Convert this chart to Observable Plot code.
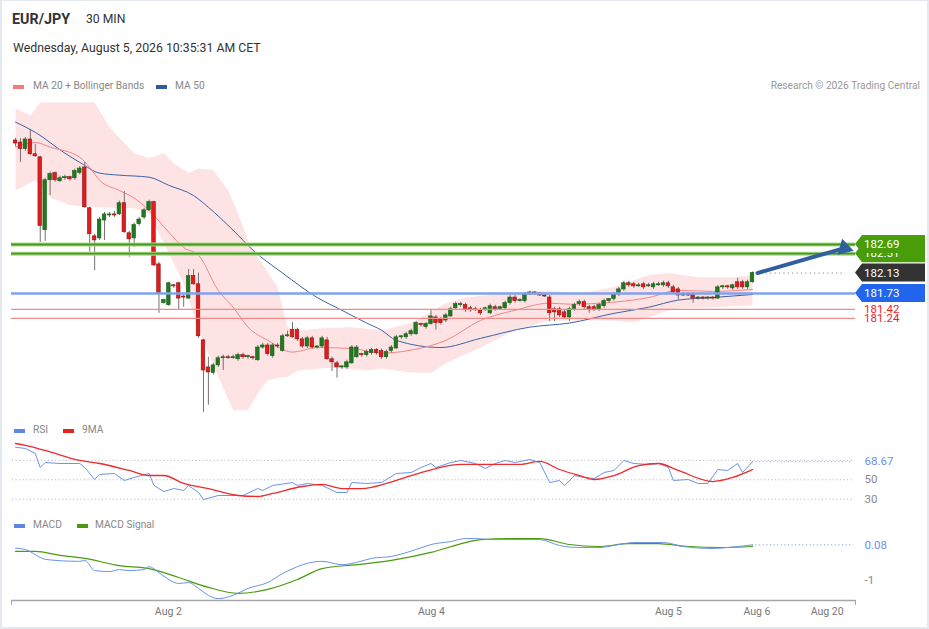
<!DOCTYPE html>
<html><head><meta charset="utf-8">
<script src="https://cdn.jsdelivr.net/npm/d3@7"></script>
<script src="https://cdn.jsdelivr.net/npm/@observablehq/plot@0.6"></script>
<style>
body{margin:0;background:#fff;font-family:Roboto,"Liberation Sans",Arial,sans-serif;}
#wrap{position:relative;width:929px;height:629px;overflow:hidden;background:#fff}
#border{position:absolute;left:0;top:0;width:929px;height:629px;box-sizing:border-box;border:1px solid #e3e9ef;border-width:1px 2px 2px 2px;pointer-events:none}
.abs{position:absolute;white-space:nowrap;line-height:1}
.sw{position:absolute;width:11px;height:4px}
.lg{font-size:10.2px;color:#888}
</style></head><body>
<div id="wrap">
  <div class="abs" style="left:12px;top:12px;font-size:14.3px;font-weight:bold;color:#333">EUR/JPY</div>
  <div class="abs" style="left:86px;top:13px;font-size:12.2px;color:#333">30 MIN</div>
  <div class="abs" style="left:13px;top:42px;font-size:12.3px;color:#333">Wednesday, August 5, 2026 10:35:31 AM CET</div>
  <div class="sw" style="left:13px;top:85px;background:#f47c7c"></div>
  <div class="abs lg" style="left:33px;top:81px">MA 20 + Bollinger Bands</div>
  <div class="sw" style="left:156px;top:85px;background:#2f5b9e"></div>
  <div class="abs lg" style="left:175px;top:81px">MA 50</div>
  <div class="abs lg" style="right:9px;top:81px;color:#999">Research © 2026 Trading Central</div>
  <div class="sw" style="left:14px;top:429px;background:#5b86e5"></div>
  <div class="abs lg" style="left:33px;top:425px">RSI</div>
  <div class="sw" style="left:63px;top:429px;background:#e8241f"></div>
  <div class="abs lg" style="left:82px;top:425px">9MA</div>
  <div class="sw" style="left:14px;top:524px;background:#5b86e5"></div>
  <div class="abs lg" style="left:33px;top:520px">MACD</div>
  <div class="sw" style="left:77px;top:524px;background:#4a9a0f"></div>
  <div class="abs lg" style="left:95px;top:520px">MACD Signal</div>
  <div id="main" class="abs" style="left:0;top:100px"></div>
  <div id="rsi" class="abs" style="left:0;top:440px"></div>
  <div id="macd" class="abs" style="left:0;top:530px"></div>
  <div id="border"></div>
</div>
<script>
// ---------- candles (30 min EUR/JPY) ----------
const open = [184.73,184.69,184.56,184.75,184.46,184.40,182.97,183.95,184.09,183.93,
183.99,184.01,183.99,184.09,184.20,183.40,182.85,182.81,183.16,183.26,
183.28,183.28,183.50,182.91,182.81,183.09,183.22,183.36,183.52,182.30,
181.54,181.50,181.89,181.93,181.67,181.63,182.07,181.91,180.81,180.28,
180.17,180.32,180.46,180.48,180.46,180.44,180.52,180.48,180.48,180.42,
180.67,180.71,180.50,180.71,180.60,180.89,181.01,181.01,180.83,180.69,
180.85,180.67,180.69,180.81,180.44,180.36,180.28,180.28,180.36,180.48,
180.54,180.52,180.56,180.62,180.60,180.48,180.60,180.65,180.87,180.87,
180.93,180.93,181.13,181.07,181.13,181.26,181.22,181.20,181.28,181.44,
181.50,181.50,181.44,181.42,181.40,181.40,181.34,181.46,181.42,181.44,
181.54,181.65,181.58,181.58,181.71,181.75,181.73,181.69,181.65,181.42,
181.42,181.36,181.26,181.42,181.52,181.56,181.46,181.46,181.42,181.48,
181.58,181.62,181.71,181.81,181.93,181.91,181.87,181.91,181.87,181.85,
181.89,181.89,181.93,181.85,181.81,181.69,181.71,181.71,181.63,181.65,
181.63,181.65,181.63,181.85,181.87,181.83,181.95,181.95,181.85,181.95];
const high = [184.77,184.77,184.79,184.95,184.65,184.42,183.99,184.11,184.11,184.03,
184.05,184.03,184.17,184.22,184.30,183.42,182.89,183.22,183.32,183.32,
183.34,183.54,183.73,182.95,183.11,183.22,183.40,183.56,183.54,182.34,
181.62,181.95,181.91,181.95,181.71,182.20,182.20,182.13,180.83,180.48,
180.36,180.50,180.52,180.52,180.52,180.56,180.56,180.52,180.50,180.71,
180.75,180.75,180.75,180.75,180.93,180.99,181.16,181.05,180.87,180.89,
180.89,180.71,180.89,180.87,180.48,180.40,180.32,180.42,180.71,180.71,
180.56,180.62,180.65,180.65,180.64,180.62,180.71,180.91,180.91,180.97,
181.03,181.18,181.15,181.16,181.42,181.30,181.26,181.34,181.46,181.56,
181.56,181.54,181.48,181.46,181.44,181.46,181.52,181.50,181.48,181.58,
181.69,181.69,181.63,181.75,181.77,181.77,181.75,181.73,181.69,181.46,
181.46,181.40,181.46,181.54,181.60,181.60,181.50,181.50,181.54,181.62,
181.63,181.75,181.85,181.97,181.97,181.95,181.93,181.95,181.93,181.95,
181.95,181.97,181.97,181.89,181.85,181.75,181.75,181.75,181.67,181.67,
181.67,181.67,181.89,181.89,181.89,181.91,182.03,181.99,181.99,182.15];
const low = [184.61,184.30,184.52,184.44,184.40,182.73,182.75,183.65,183.91,183.91,
183.95,183.93,183.95,184.05,183.40,182.54,182.18,182.77,182.77,183.22,
183.22,183.26,182.91,182.44,182.63,183.05,183.18,183.34,182.26,181.34,
181.52,181.48,181.83,181.40,181.46,181.62,181.89,180.85,179.40,179.54,
180.13,180.28,180.22,180.44,180.44,180.40,180.44,180.44,180.42,180.40,
180.64,180.50,180.46,180.65,180.58,180.87,180.85,180.79,180.65,180.65,
180.64,180.64,180.65,180.42,180.20,180.07,180.24,180.24,180.34,180.46,
180.48,180.48,180.52,180.52,180.44,180.44,180.56,180.64,180.83,180.83,
180.89,180.91,181.07,181.03,181.11,181.01,181.11,181.16,181.26,181.40,
181.46,181.36,181.36,181.38,181.30,181.38,181.32,181.38,181.40,181.40,
181.50,181.54,181.56,181.54,181.69,181.69,181.67,181.65,181.18,181.18,
181.26,181.22,181.18,181.38,181.48,181.42,181.34,181.38,181.38,181.44,
181.54,181.58,181.67,181.77,181.85,181.83,181.85,181.81,181.85,181.81,
181.87,181.85,181.83,181.71,181.60,181.67,181.67,181.54,181.60,181.60,
181.60,181.60,181.62,181.81,181.81,181.79,181.81,181.81,181.81,181.93];
const close = [184.67,184.56,184.75,184.46,184.42,183.05,183.95,184.07,183.95,183.99,
184.01,183.97,184.13,184.18,183.42,182.89,182.77,183.18,183.28,183.28,
183.26,183.50,182.93,182.79,183.07,183.18,183.36,183.52,182.28,181.73,
181.60,181.93,181.87,181.63,181.65,182.07,181.91,180.89,180.22,180.18,
180.32,180.46,180.48,180.46,180.48,180.52,180.48,180.50,180.46,180.67,
180.71,180.54,180.71,180.69,180.89,180.91,180.87,180.83,180.69,180.85,
180.67,180.69,180.85,180.44,180.38,180.28,180.30,180.38,180.67,180.67,
180.52,180.58,180.62,180.56,180.48,180.58,180.67,180.87,180.89,180.93,
180.99,181.15,181.11,181.13,181.28,181.15,181.15,181.30,181.42,181.52,
181.52,181.40,181.40,181.40,181.34,181.44,181.48,181.42,181.46,181.54,
181.65,181.58,181.60,181.71,181.75,181.73,181.69,181.67,181.34,181.36,
181.30,181.26,181.42,181.50,181.56,181.46,181.42,181.40,181.50,181.58,
181.62,181.71,181.81,181.93,181.89,181.87,181.89,181.85,181.89,181.91,
181.91,181.93,181.87,181.75,181.69,181.71,181.69,181.63,181.65,181.63,
181.65,181.63,181.85,181.87,181.85,181.89,181.85,181.85,181.95,182.13];

// ---------- overlays (sampled at candle index) ----------
const upperIdx = [0,3,5,16,19,24,27,30,32,35,37,40,43,45,47,49,53,54,55,58,62,68,74,80,87,91,101,108,114,121,128,132,138,145,149];
const upperVal = [185.36,185.22,185.48,185.48,184.99,184.48,184.38,184.48,184.28,184.09,184.18,184.15,183.75,183.30,182.77,182.44,181.85,181.46,181.07,181.01,181.05,181.07,181.01,181.15,181.54,181.65,181.75,181.79,181.73,181.85,182.09,182.13,182.05,182.05,182.09];
const lowerIdx = [0,4,7,11,17,24,27,34,37,41,44,47,49,51,54,55,57,64,71,74,80,84,87,94,101,108,114,121,125,131,134,141,149];
const lowerVal = [183.75,183.95,183.61,183.46,183.42,183.40,183.30,181.93,181.01,180.09,179.44,179.44,179.77,180.03,180.09,180.09,180.22,180.28,180.22,180.26,180.18,180.17,180.36,180.67,181.01,181.20,181.20,181.20,181.16,181.36,181.44,181.46,181.50];
const ma20Idx = [0,4,7,13,15,17,21,24,27,31,34,37,41,44,47,51,56,61,68,74,80,87,94,101,108,112,121,128,134,141,149];
const ma20Val = [184.60,184.69,184.60,184.40,184.20,183.95,183.75,183.60,183.36,182.93,182.63,182.48,181.79,181.46,181.07,180.81,180.58,180.67,180.65,180.56,180.62,180.81,181.20,181.40,181.54,181.52,181.56,181.65,181.79,181.77,181.81];
const ma50Idx = [0,4,10,13,17,21,27,31,36,39,44,48,54,61,66,71,74,77,86,94,104,112,121,128,134,141,149];
const ma50Val = [185.09,184.89,184.48,184.30,184.09,184.05,184.01,183.85,183.65,183.42,182.97,182.58,182.13,181.65,181.40,181.15,181.01,180.81,180.67,180.85,181.07,181.15,181.34,181.46,181.60,181.65,181.71];

// ---------- levels ----------
const resistanceLevels = [182.69, 182.51];
const pivotLevel = 181.73;
const supportLevels = [181.42, 181.24];
const lastPrice = 182.13;
const arrowFrom = [150, 182.13];
const arrowTo = [167.6, 182.62];

// ---------- RSI ----------
const rsiIdx = [0,2,4,5,6,9,13,14,16,17,20,22,24,27,28,30,32,34,35,37,38,41,46,49,50,52,56,57,59,62,65,67,68,71,74,77,80,82,84,85,88,90,93,95,97,99,101,104,106,108,110,111,113,115,117,119,121,123,125,128,130,132,133,136,138,140,142,144,146,147,149];
const rsiVal = [83.6,82.3,77.1,62.7,67.8,66.8,66.8,62.7,50.3,55.5,56.5,49.3,52.4,56.5,44.1,37.9,41.0,39.0,44.1,36.9,29.7,33.8,33.8,41.0,39.0,44.1,47.2,44.1,46.2,44.1,36.9,36.9,47.2,46.2,47.2,56.5,57.5,62.7,66.8,62.7,67.8,69.9,66.8,61.6,66.8,69.9,67.8,70.9,67.8,47.2,49.3,44.1,54.4,52.4,51.3,57.5,59.6,69.9,66.8,65.8,66.8,62.7,49.3,50.3,46.2,46.2,60.6,59.6,66.8,57.5,68.67];
const rsiMaIdx = [0,2,6,13,17,23,27,30,34,39,45,49,52,58,62,66,70,75,80,85,90,98,102,106,110,114,117,121,126,130,134,141,145,149];
const rsiMaVal = [87.4,85.4,80.2,69.9,66.8,59.6,54.4,54.4,46.2,41.0,33.8,32.8,35.9,43.1,45.2,41.0,41.0,46.2,54.4,61.6,65.8,65.8,65.8,68.9,60.6,54.4,50.3,54.4,64.7,66.8,59.6,48.2,52.4,60.5];
const rsiGrid = [30, 50, 70];
const rsiLabels = [68.67, 50, 30];

// ---------- MACD ----------
const macdIdx = [0,2,5,6,13,14,16,19,21,23,26,27,29,31,33,35,37,39,41,44,47,51,54,57,59,62,66,69,72,76,81,84,88,91,93,96,102,106,110,114,118,122,125,131,135,141,144,149];
const macdVal = [-0.02,-0.06,-0.30,-0.36,-0.42,-0.39,-0.70,-0.73,-0.67,-0.70,-0.67,-0.58,-0.76,-0.97,-1.09,-1.06,-1.24,-1.45,-1.55,-1.45,-1.24,-1.06,-0.79,-0.58,-0.48,-0.42,-0.52,-0.45,-0.33,-0.27,-0.06,0.09,0.18,0.27,0.27,0.24,0.24,0.24,0.06,0.00,0.00,0.09,0.15,0.15,0.03,-0.03,0.00,0.08];
const sigIdx = [0,4,9,14,21,27,33,39,45,51,57,62,69,76,84,91,94,100,106,112,118,124,130,136,143,149];
const sigVal = [-0.12,-0.12,-0.24,-0.33,-0.55,-0.64,-0.91,-1.21,-1.39,-1.27,-0.97,-0.64,-0.52,-0.39,-0.15,0.15,0.24,0.27,0.27,0.09,0.03,0.12,0.12,0.03,0.00,0.03];
const macdLabels = [0.08, -1];

// ---------- time axis ----------
const tickPos = [30.9, 84.1, 132.0, 149.9, 164.1];
const tickLabels = ["Aug 2", "Aug 4", "Aug 5", "Aug 6", "Aug 20"];

// ---------- build ----------
const font = "Roboto, Liberation Sans, Arial, sans-serif";
const xDomain = [-0.81, 169.83];
const xEnd = 169.3;
const common = {width: 929, marginLeft: 11, marginRight: 74, marginTop: 0,
  style: {fontFamily: font, fontSize: "11px", overflow: "visible", background: "transparent"}};
const pts = (idx, val) => idx.map((i, k) => ({i, v: val[k]}));
const candles = open.map((o, i) => ({i, o, h: high[i], l: low[i], c: close[i]}));
const N = candles.length;
const band = pts(upperIdx, upperVal).concat(pts(lowerIdx, lowerVal).reverse());

const yMain = [179.239, 185.514];
const pxX = (929 - 11 - 74) / (xDomain[1] - xDomain[0]);
const pxY = 320 / (yMain[1] - yMain[0]);
const ang = Math.atan2((arrowTo[1] - arrowFrom[1]) * pxY, (arrowTo[0] - arrowFrom[0]) * pxX) * 180 / Math.PI;

const main = Plot.plot({
  ...common, height: 320, marginBottom: 0,
  x: {domain: xDomain, axis: null},
  y: {domain: yMain, axis: null},
  marks: [
    Plot.line(band, {x: "i", y: "v", fill: "#fde3e3", stroke: "none"}),
    Plot.line(pts(ma50Idx, ma50Val), {x: "i", y: "v", stroke: "#3a64a8", strokeWidth: 1, curve: "monotone-x"}),
    Plot.line(pts(ma20Idx, ma20Val), {x: "i", y: "v", stroke: "#f58585", strokeWidth: 1, curve: "monotone-x"}),
    Plot.ruleX(candles, {x: "i", y1: "l", y2: "h", stroke: "#7a6f6f", strokeWidth: 1}),
    Plot.rect(candles, {x1: d => d.i - 0.36, x2: d => d.i + 0.36, y1: "o", y2: "c",
      fill: d => d.c >= d.o ? "#1f7a1f" : "#e31b1b",
      stroke: d => d.c >= d.o ? "#185c18" : "#8f1414", strokeWidth: 0.6}),
    Plot.ruleY(resistanceLevels, {stroke: "#acd78f", strokeWidth: 4}),
    Plot.ruleY(resistanceLevels, {stroke: "#47991a", strokeWidth: 1.8}),
    Plot.ruleY([pivotLevel], {stroke: "#7fa2ee", strokeWidth: 2.5}),
    Plot.ruleY(supportLevels, {stroke: "#f28a8a", strokeWidth: 1.2}),
    Plot.ruleY([lastPrice], {x1: N, x2: xEnd - 1.5, stroke: "#888", strokeDasharray: "1.2,3.2"}),
    Plot.link([{a: arrowFrom, b: arrowTo}], {x1: d => d.a[0], y1: d => d.a[1], x2: d => d.b[0], y2: d => d.b[1],
      stroke: "#2f5f9f", strokeWidth: 4, strokeLinecap: "round"}),
    Plot.dot([arrowTo], {x: d => d[0], y: d => d[1], symbol: "triangle", r: 5.5, fill: "#2f5f9f", stroke: "#2f5f9f", strokeWidth: 1, rotate: 90 + ang})
  ]
});
document.getElementById("main").appendChild(main);

// price tags on the right
const ys = main.scale("y");
const tags = [
  {v: 182.51, color: "#4a9d0a", label: "182.51"},
  {v: 182.69, color: "#4a9d0a", label: "182.69"},
  {v: lastPrice, color: "#333333", label: "182.13"},
  {v: pivotLevel, color: "#2266ee", label: "181.73"}
];
const g = d3.select(main).append("g").attr("font-family", font).attr("font-size", 11.5).attr("text-anchor", "start");
tags.forEach(t => {
  const y = ys.apply(t.v);
  g.append("path").attr("d", `M855,${y}L862,${y - 9}H925V${y + 9}H862Z`).attr("fill", t.color);
  g.append("text").attr("x", 864).attr("y", y + 4.2).attr("fill", "#fff").text(t.label);
});
supportLevels.forEach(v => {
  g.append("text").attr("x", 864).attr("y", ys.apply(v) + 4.2).attr("fill", "#ee1c1c").text(v.toFixed(2));
});

// RSI panel
const rsiLast = rsiVal[rsiVal.length - 1];
const rsi = Plot.plot({
  ...common, height: 70, marginBottom: 0,
  x: {domain: xDomain, axis: null},
  y: {domain: [18.35, 90.5], axis: null},
  marks: [
    Plot.ruleY(rsiGrid, {x1: xDomain[0] + 0.2, x2: xEnd, stroke: "#a9b0bb", strokeDasharray: "1,2.6"}),
    Plot.ruleY([rsiLast], {x1: N - 1, x2: xEnd, stroke: "#7b9cef", strokeDasharray: "1,2.6"}),
    Plot.line(pts(rsiIdx, rsiVal), {x: "i", y: "v", stroke: "#6b93ea", strokeWidth: 1}),
    Plot.line(pts(rsiMaIdx, rsiMaVal), {x: "i", y: "v", stroke: "#ee2a2a", strokeWidth: 1.3, curve: "monotone-x"}),
    Plot.text(rsiLabels, {y: d => d, text: d => d === rsiLast ? d.toFixed(2) : String(d), frameAnchor: "right",
      textAnchor: "start", dx: 9, fill: d => d === rsiLast ? "#6b8fec" : "#888", fontSize: 11.5})
  ]
});
document.getElementById("rsi").appendChild(rsi);

// MACD panel + time axis
const macdLast = macdVal[macdVal.length - 1];
const yMacd = [-1.606, 0.515];
const macd = Plot.plot({
  ...common, height: 99, marginBottom: 29,
  x: {domain: xDomain, axis: null},
  y: {domain: yMacd, axis: null},
  marks: [
    Plot.ruleY([macdLast], {x1: N - 1, x2: xEnd, stroke: "#6b8fec", strokeDasharray: "1,2.6"}),
    Plot.line(pts(sigIdx, sigVal), {x: "i", y: "v", stroke: "#4a9a0f", strokeWidth: 1.2, curve: "monotone-x"}),
    Plot.line(pts(macdIdx, macdVal), {x: "i", y: "v", stroke: "#6b93ea", strokeWidth: 1, curve: "monotone-x"}),
    Plot.text(macdLabels, {y: d => d, text: d => d === macdLast ? d.toFixed(2) : String(d), frameAnchor: "right",
      textAnchor: "start", dx: 9, fill: d => d === macdLast ? "#6b8fec" : "#888", fontSize: 11.5}),
    Plot.ruleY([yMacd[0]], {stroke: "#a6a6a6", strokeWidth: 1.5}),
    Plot.axisX({ticks: xDomain, tickSize: 5, tickFormat: () => "", stroke: "#a6a6a6", label: null}),
    Plot.axisX({ticks: tickPos, tickSize: 0, tickPadding: 7, fontSize: 10.5, fill: "#777", label: null,
      tickFormat: d => tickLabels[tickPos.indexOf(d)]})
  ]
});
document.getElementById("macd").appendChild(macd);
</script>
</body></html>
